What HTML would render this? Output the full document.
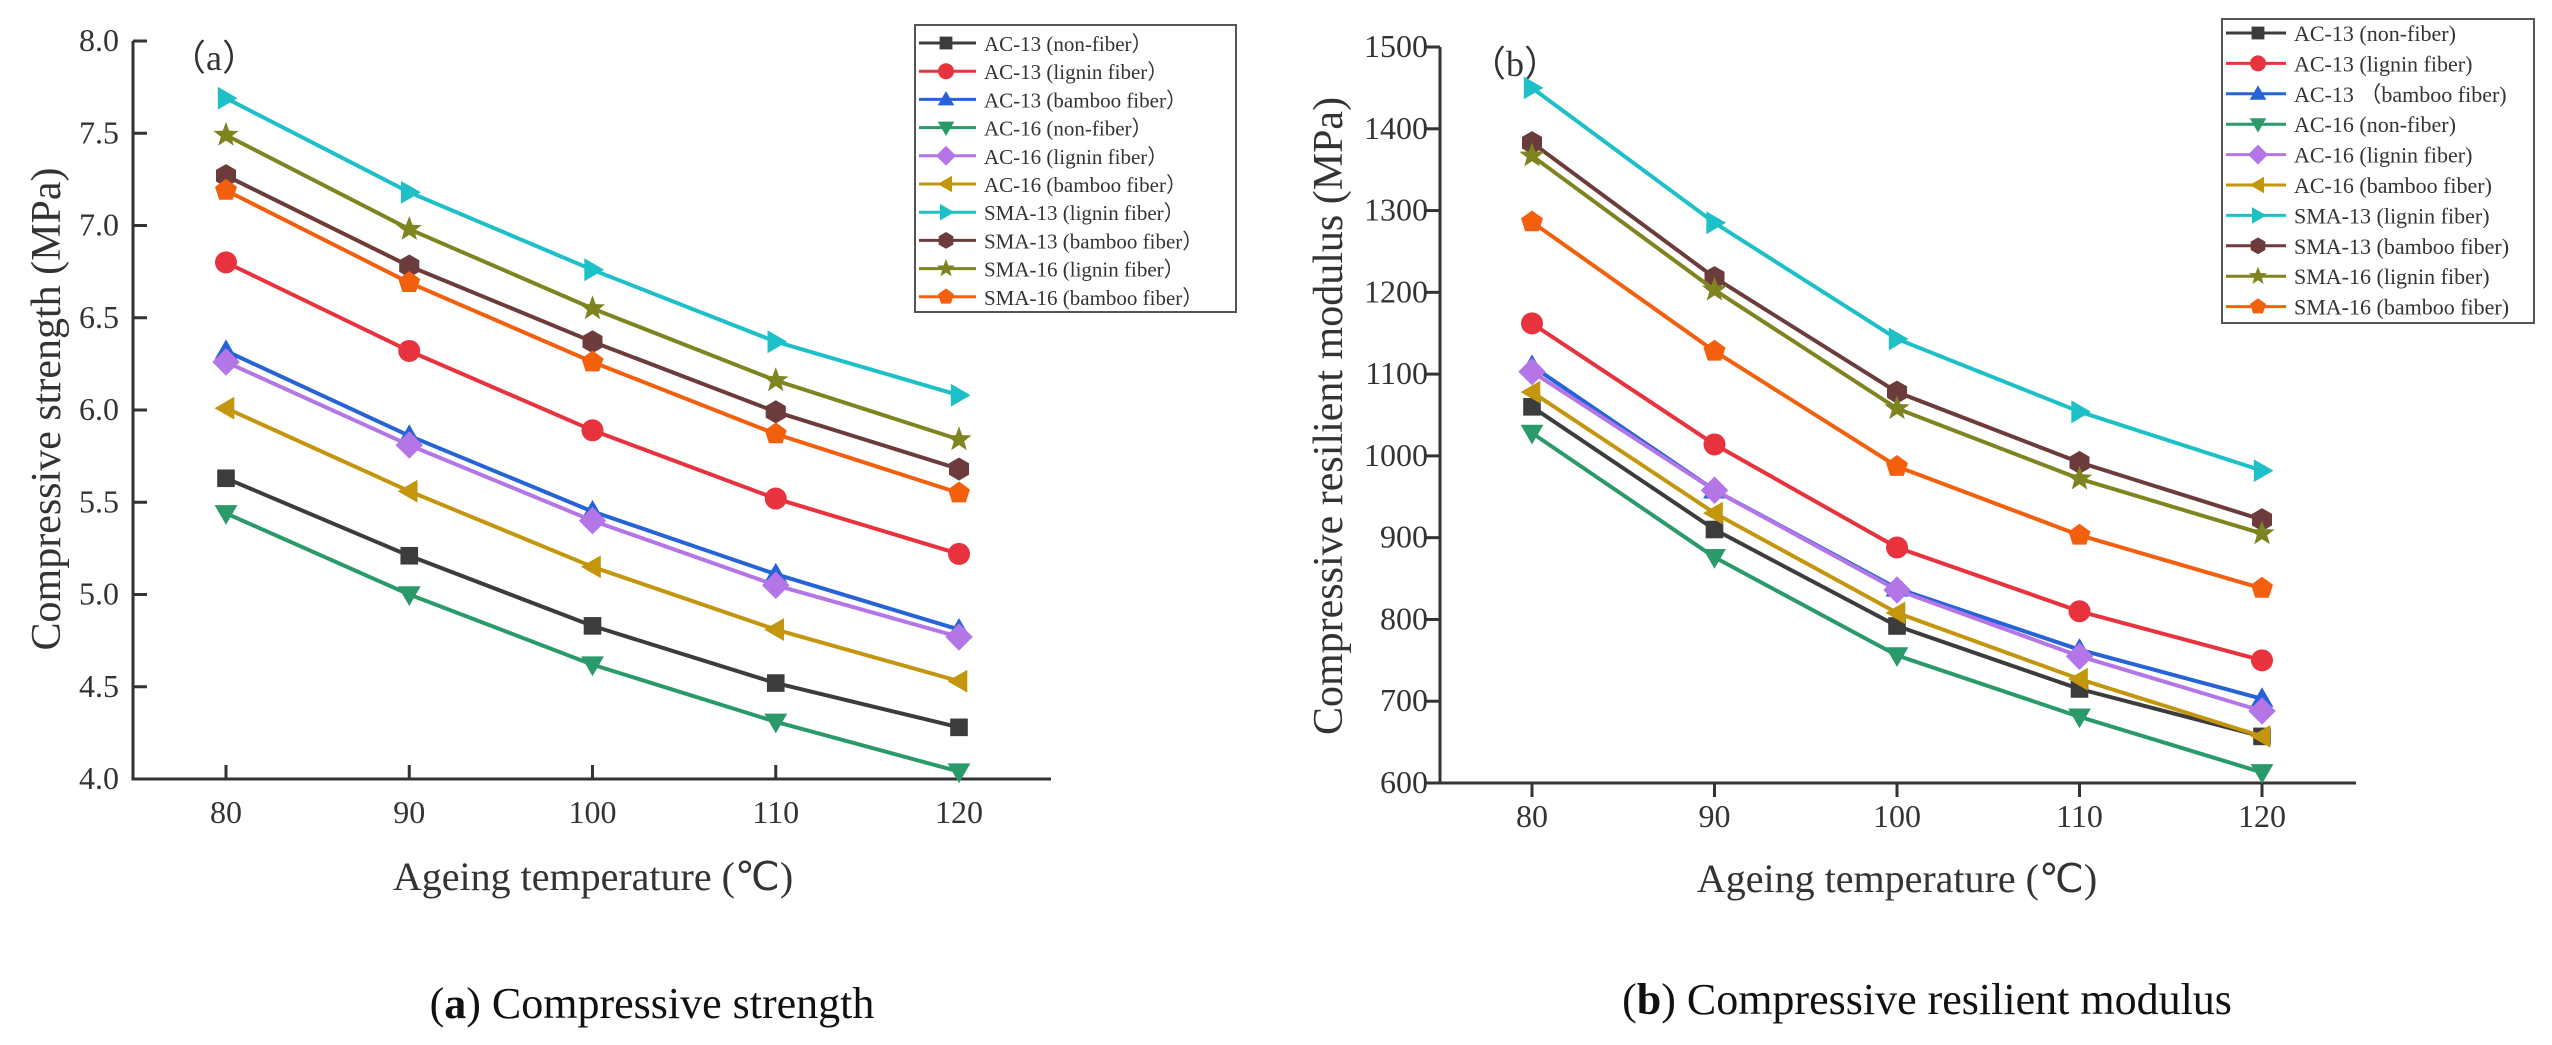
<!DOCTYPE html>
<html><head><meta charset="utf-8"><style>
html,body{margin:0;padding:0;background:#fff;}
svg{display:block;font-family:"Liberation Serif",serif;}
</style></head><body>
<svg id="fig" width="2552" height="1045" viewBox="0 0 2552 1045" xmlns="http://www.w3.org/2000/svg"></svg>
<script>
const categories=[80,90,100,110,120];
const seriesNames=["AC-13 (non-fiber\uFF09","AC-13 (lignin fiber\uFF09","AC-13 (bamboo fiber\uFF09","AC-16 (non-fiber\uFF09","AC-16 (lignin fiber\uFF09","AC-16 (bamboo fiber\uFF09","SMA-13 (lignin fiber\uFF09","SMA-13 (bamboo fiber\uFF09","SMA-16 (lignin fiber\uFF09","SMA-16 (bamboo fiber\uFF09"];
const seriesNamesB=["AC-13 (non-fiber)","AC-13 (lignin fiber)","AC-13 \uFF08bamboo fiber)","AC-16 (non-fiber)","AC-16 (lignin fiber)","AC-16 (bamboo fiber)","SMA-13 (lignin fiber)","SMA-13 (bamboo fiber)","SMA-16 (lignin fiber)","SMA-16 (bamboo fiber)"];
const strengthAC13non=[5.63,5.21,4.83,4.52,4.28];
const strengthAC13lig=[6.80,6.32,5.89,5.52,5.22];
const strengthAC13bam=[6.32,5.86,5.45,5.11,4.81];
const strengthAC16non=[5.44,5.00,4.62,4.31,4.04];
const strengthAC16lig=[6.26,5.81,5.40,5.05,4.77];
const strengthAC16bam=[6.01,5.56,5.15,4.81,4.53];
const strengthSMA13lig=[7.69,7.18,6.76,6.37,6.08];
const strengthSMA13bam=[7.27,6.78,6.37,5.99,5.68];
const strengthSMA16lig=[7.49,6.98,6.55,6.16,5.84];
const strengthSMA16bam=[7.19,6.69,6.26,5.87,5.55];
const modulusAC13non=[1060,910,792,715,657];
const modulusAC13lig=[1162,1014,888,810,750];
const modulusAC13bam=[1110,958,838,763,703];
const modulusAC16non=[1028,876,756,681,613];
const modulusAC16lig=[1103,958,836,755,688];
const modulusAC16bam=[1078,930,808,727,657];
const modulusSMA13lig=[1450,1285,1143,1054,982];
const modulusSMA13bam=[1383,1218,1078,992,922];
const modulusSMA16lig=[1367,1203,1058,972,905];
const modulusSMA16bam=[1286,1128,987,903,838];
const ticksA=[4.0,4.5,5.0,5.5,6.0,6.5,7.0,7.5,8.0];
const ticksB=[600,700,800,900,1000,1100,1200,1300,1400,1500];

const colors=["#3c3c3c","#e8333e","#2563d6","#2a9a6a","#b476e6","#c4960e","#1ec0c8","#6c3c3c","#7e8420","#f2600e"];
const shapes=["square","circle","up","down","diamond","left","right","hex","star","pent"];
const NS="http://www.w3.org/2000/svg";
const svg=document.getElementById('fig');
function mk(tag,attrs,parent){const e=document.createElementNS(NS,tag);for(const k in attrs)e.setAttribute(k,attrs[k]);(parent||svg).appendChild(e);return e;}
function poly(cx,cy,n,r,rot){let p=[];for(let i=0;i<n;i++){const a=rot+i*2*Math.PI/n;p.push((cx+r*Math.cos(a)).toFixed(1)+","+(cy+r*Math.sin(a)).toFixed(1));}return p.join(" ");}
function marker(g,shape,cx,cy,s,color){
  let e;
  if(shape==="square")e=mk('rect',{x:cx-s*0.8,y:cy-s*0.8,width:s*1.6,height:s*1.6},g);
  else if(shape==="circle")e=mk('circle',{cx:cx,cy:cy,r:s},g);
  else if(shape==="up")e=mk('polygon',{points:poly(cx,cy+s*0.15,3,s*1.2,-Math.PI/2)},g);
  else if(shape==="down")e=mk('polygon',{points:poly(cx,cy-s*0.15,3,s*1.2,Math.PI/2)},g);
  else if(shape==="left")e=mk('polygon',{points:poly(cx+s*0.15,cy,3,s*1.2,Math.PI)},g);
  else if(shape==="right")e=mk('polygon',{points:poly(cx-s*0.15,cy,3,s*1.2,0)},g);
  else if(shape==="diamond")e=mk('polygon',{points:poly(cx,cy,4,s*1.25,-Math.PI/2)},g);
  else if(shape==="hex")e=mk('polygon',{points:poly(cx,cy,6,s*1.05,-Math.PI/2)},g);
  else if(shape==="pent")e=mk('polygon',{points:poly(cx,cy,5,s*1.05,-Math.PI/2)},g);
  else if(shape==="star"){let p=[];for(let i=0;i<10;i++){const r=i%2?s*0.5:s*1.2;const a=-Math.PI/2+i*Math.PI/5;p.push((cx+r*Math.cos(a)).toFixed(1)+","+(cy+r*Math.sin(a)).toFixed(1));}e=mk('polygon',{points:p.join(" ")},g);}
  e.setAttribute('fill',color);
  return e;
}
function txt(x,y,s,size,anchor,parent,extra){const t=mk('text',Object.assign({x:x,y:y,'font-size':size,'text-anchor':anchor||'start',fill:'#333'},extra||{}),parent);t.textContent=s;return t;}

function chart(cfg){
  const g=mk('g',{});
  
  
  const xS=v=>cfg.x0+(v-categories[0])*(cfg.x1-cfg.x0)/(categories[categories.length-1]-categories[0]);
  const yS=v=>cfg.yb+(v-cfg.ymin)*(cfg.yt-cfg.yb)/(cfg.ymax-cfg.ymin);
  // axes
  const ax=mk('path',{d:`M${cfg.axL},${yS(cfg.ymax)} L${cfg.axL},${cfg.yb} L${cfg.axR},${cfg.yb}`,stroke:'#333','stroke-width':3,fill:'none'},g);
  
  cfg.ticks.forEach(v=>{
    const y=yS(v);
    mk('line',{x1:cfg.axL,x2:cfg.axL+cfg.ytickDir*14,y1:y,y2:y,stroke:'#333','stroke-width':3},g);
    const t=txt(cfg.axL-cfg.ylabOff,y+10,cfg.fmt(v),cfg.tickSize,'end',g);
    
    
  });
  categories.forEach(c=>{
    const x=xS(c);
    mk('line',{x1:x,x2:x,y1:cfg.yb,y2:cfg.yb+cfg.xtickDir*14,stroke:'#333','stroke-width':3},g);
    const t=txt(x,cfg.yb+44,String(c),cfg.tickSize,'middle',g);
    
    
  });
  const xt=txt(cfg.xtitleX,cfg.xtitleY,"Ageing temperature (\u2103)",40,'middle',g);
  
  const yt=txt(0,0,cfg.ytitle,42,'middle',g,{transform:`translate(${cfg.ytitleX},${cfg.ytitleY}) rotate(-90)`});
  
  const pl=txt(cfg.panelX,cfg.panelY,cfg.panel,36,'start',g);
  
  // series
  cfg.data.forEach((arr,i)=>{
    const sg=mk('g',{},g);
    
    
    const pts=arr.map((v,j)=>xS(categories[j]).toFixed(1)+","+yS(v).toFixed(1)).join(" ");
    mk('polyline',{points:pts,fill:'none',stroke:colors[i],'stroke-width':4,'stroke-linejoin':'round'},sg);
    arr.forEach((v,j)=>{
      const m=marker(sg,shapes[i],xS(categories[j]),yS(v),11,colors[i]);
      
      
    });
  });
  // legend
  const L=cfg.leg;
  const lg=mk('g',{},g);
  
  
  mk('rect',{x:L.x,y:L.y,width:L.w,height:L.h,fill:'#fff',stroke:'#555','stroke-width':2},lg);
  cfg.names.forEach((n,i)=>{
    const y=L.r0+i*L.dy;
    const eg=mk('g',{},lg);
    
    
    mk('line',{x1:L.x+4,x2:L.tx-8,y1:y,y2:y,stroke:colors[i],'stroke-width':3},eg);
    marker(eg,shapes[i],L.mx,y,8,colors[i]);
    txt(L.tx,y+8,n,L.fs,'start',eg);
  });
  const cap=mk('text',{x:cfg.capX,y:cfg.capY,'font-size':44,'text-anchor':'middle',fill:'#111'},g);
  
  cap.innerHTML='(<tspan font-weight="bold">'+cfg.panelChar+'</tspan>) '+cfg.caption;
}

chart({name:'chart-compressive-strength',x0:226,x1:959,axL:133,axR:1051,yb:779,yt:41,ymin:4,ymax:8,ticks:ticksA,fmt:v=>v.toFixed(1),
  ytickDir:1,xtickDir:-1,ylabOff:14,tickSize:32,xtitleX:593,xtitleY:890,ytitle:"Compressive strength (MPa)",ytitleX:60,ytitleY:409,
  panel:"\uFF08a\uFF09",panelX:170,panelY:70,
  data:[strengthAC13non,strengthAC13lig,strengthAC13bam,strengthAC16non,strengthAC16lig,strengthAC16bam,strengthSMA13lig,strengthSMA13bam,strengthSMA16lig,strengthSMA16bam],
  names:seriesNames,leg:{x:915,y:25,w:321,h:287,r0:43,dy:28.2,mx:946,tx:984,fs:21},
  capX:652,capY:1018,panelChar:'a',caption:'Compressive strength'});
chart({name:'chart-resilient-modulus',x0:1532,x1:2262,axL:1440,axR:2356,yb:783,yt:47,ymin:600,ymax:1500,ticks:ticksB,fmt:v=>String(v),
  ytickDir:-1,xtickDir:1,ylabOff:12,tickSize:32,xtitleX:1897,xtitleY:892,ytitle:"Compressive resilient modulus (MPa)",ytitleX:1342,ytitleY:416,
  panel:"\uFF08b\uFF09",panelX:1470,panelY:76,
  data:[modulusAC13non,modulusAC13lig,modulusAC13bam,modulusAC16non,modulusAC16lig,modulusAC16bam,modulusSMA13lig,modulusSMA13bam,modulusSMA16lig,modulusSMA16bam],
  names:seriesNamesB,leg:{x:2222,y:19,w:312,h:304,r0:33,dy:30.4,mx:2258,tx:2294,fs:22},
  capX:1927,capY:1014,panelChar:'b',caption:'Compressive resilient modulus'});
</script>
</body></html>
